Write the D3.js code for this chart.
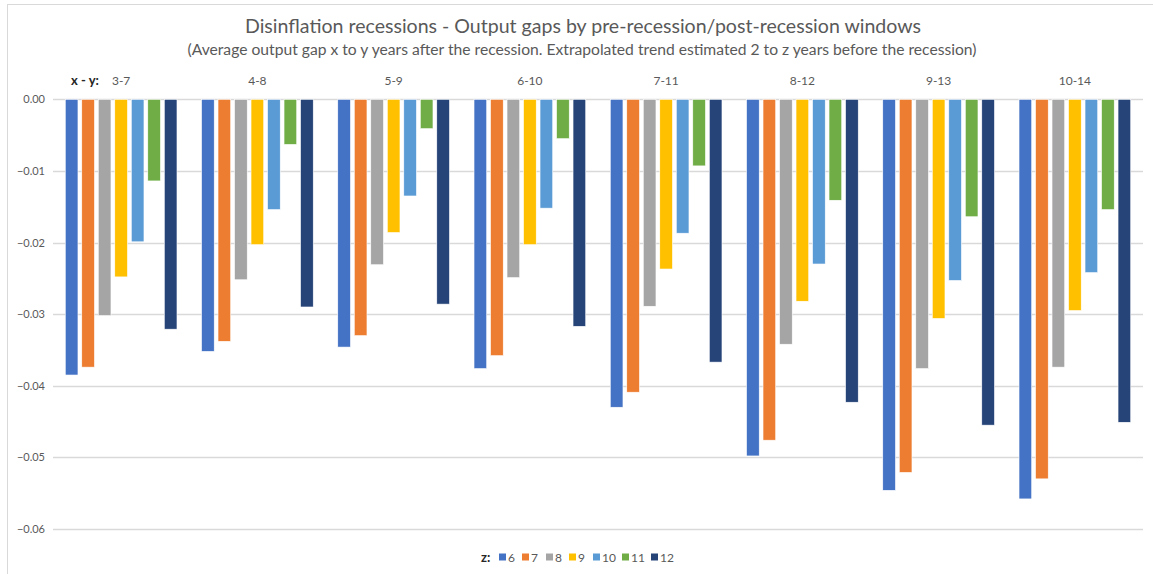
<!DOCTYPE html>
<html>
<head>
<meta charset="utf-8">
<script src="https://cdn.jsdelivr.net/npm/d3@7"></script>
<style>
  body { margin: 0; background: #fff; }
  text { font-family: Lato, "Open Sans", sans-serif; }
</style>
</head>
<body>
<script>
var width = 1153;
var height = 574;

// windows x-y (years after the recession)
var windows = ['3-7', '4-8', '5-9', '6-10', '7-11', '8-12', '9-13', '10-14'];
// z (trend estimated 2 to z years before)
var zs = ['6', '7', '8', '9', '10', '11', '12'];
var colors = ['#4472C4', '#ED7D31', '#A5A5A5', '#FFC000', '#5B9BD5', '#70AD47', '#264478'];

// one array per z, values across the windows
var z6  = [-0.0385, -0.0352, -0.0346, -0.0376, -0.0430, -0.0498, -0.0546, -0.0558];
var z7  = [-0.0374, -0.0338, -0.0330, -0.0358, -0.0409, -0.0476, -0.0521, -0.0530];
var z8  = [-0.0302, -0.0252, -0.0231, -0.0249, -0.0289, -0.0342, -0.0376, -0.0374];
var z9  = [-0.0248, -0.0203, -0.0186, -0.0203, -0.0237, -0.0282, -0.0306, -0.0295];
var z10 = [-0.0199, -0.0154, -0.0135, -0.0152, -0.0187, -0.0230, -0.0253, -0.0242];
var z11 = [-0.0114, -0.0063, -0.0041, -0.0055, -0.0093, -0.0141, -0.0164, -0.0154];
var z12 = [-0.0321, -0.0290, -0.0286, -0.0317, -0.0367, -0.0423, -0.0455, -0.0451];
var yTicks = [0, -0.01, -0.02, -0.03, -0.04, -0.05, -0.06];

var series = [z6, z7, z8, z9, z10, z11, z12];

var svg = d3.select('body')
    .append('svg')
    .attr('width', width)
    .attr('height', height);

// chart border
svg.append('rect')
    .attr('x', 7.5).attr('y', 4.5)
    .attr('width', width + 10).attr('height', height + 10)
    .attr('fill', 'none')
    .attr('stroke', '#D9D9D9');

var x0 = d3.scaleBand()
    .domain(windows)
    .range([53, 1143])
    .paddingInner(0.18)
    .paddingOuter(0.09);

var x1 = d3.scaleBand()
    .domain(zs)
    .range([0, x0.bandwidth()])
    .paddingInner(0.23);

var y = d3.scaleLinear()
    .domain([-0.06, 0])
    .range([529, 99.3]);

// gridlines
svg.append('g')
    .selectAll('line')
    .data(yTicks)
    .enter()
    .append('line')
    .attr('x1', 53).attr('x2', 1143)
    .attr('y1', d => Math.round(y(d)) + 0.5)
    .attr('y2', d => Math.round(y(d)) + 0.5)
    .attr('stroke', '#D9D9D9')
    .attr('stroke-width', 1.3);

// y axis labels
var yAxis = d3.axisLeft(y)
    .tickValues(yTicks)
    .tickFormat(d3.format('.2f'))
    .tickSize(0)
    .tickPadding(8);

var ya = svg.append('g')
    .attr('transform', 'translate(53,0)')
    .call(yAxis);
ya.select('.domain').remove();
ya.selectAll('text')
    .attr('fill', '#595959')
    .style('font-size', '11px')
    .style('font-family', 'Lato, sans-serif');

// bars
var groups = svg.append('g')
    .selectAll('g')
    .data(series)
    .enter()
    .append('g')
    .attr('fill', (d, i) => colors[i]);

groups.each(function(vals, si) {
    d3.select(this).selectAll('rect')
        .data(vals)
        .enter()
        .append('rect')
        .attr('x', (d, i) => x0(windows[i]) + x1(zs[si]))
        .attr('y', y(0))
        .attr('width', x1.bandwidth())
        .attr('height', d => y(d) - y(0))
        .attr('stroke', '#fff')
        .attr('stroke-width', 0.6);
});

// window labels across the top
var xAxis = d3.axisTop(x0).tickSize(0).tickPadding(0);
var xa = svg.append('g')
    .attr('transform', 'translate(0,85)')
    .call(xAxis);
xa.select('.domain').remove();
xa.selectAll('text')
    .attr('fill', '#595959')
    .style('font-size', '12px')
    .style('font-family', 'Lato, sans-serif');

svg.append('text')
    .attr('x', 71).attr('y', 85)
    .attr('fill', '#262626')
    .style('font-size', '13px')
    .style('font-weight', 'bold')
    .text('x - y:');

// titles
svg.append('text')
    .attr('x', 583).attr('y', 33)
    .attr('text-anchor', 'middle')
    .attr('fill', '#595959')
    .attr('textLength', 676)
    .attr('lengthAdjust', 'spacingAndGlyphs')
    .style('font-size', '19px')
    .text('Disinflation recessions - Output gaps by pre-recession/post-recession windows');

svg.append('text')
    .attr('x', 582).attr('y', 55)
    .attr('text-anchor', 'middle')
    .attr('fill', '#595959')
    .attr('textLength', 789)
    .attr('lengthAdjust', 'spacingAndGlyphs')
    .style('font-size', '14.5px')
    .text('(Average output gap x to y years after the recession. Extrapolated trend estimated 2 to z years before the recession)');

// legend
var legend = svg.append('g').attr('transform', 'translate(0,557)');
legend.append('text')
    .attr('x', 481).attr('y', 5)
    .attr('fill', '#262626')
    .style('font-size', '13px')
    .style('font-weight', 'bold')
    .text('z:');

var legendX = [499, 522, 546, 569, 593, 622, 651];
var li = legend.selectAll('g.item')
    .data(zs)
    .enter()
    .append('g')
    .attr('class', 'item')
    .attr('transform', (d, i) => 'translate(' + legendX[i] + ',0)');
li.append('rect')
    .attr('x', 0).attr('y', -3.5)
    .attr('width', 7).attr('height', 7)
    .attr('fill', (d, i) => colors[i]);
li.append('text')
    .attr('x', 9).attr('y', 4.5)
    .attr('fill', '#595959')
    .style('font-size', '12px')
    .text(d => d);
</script>
</body>
</html>
